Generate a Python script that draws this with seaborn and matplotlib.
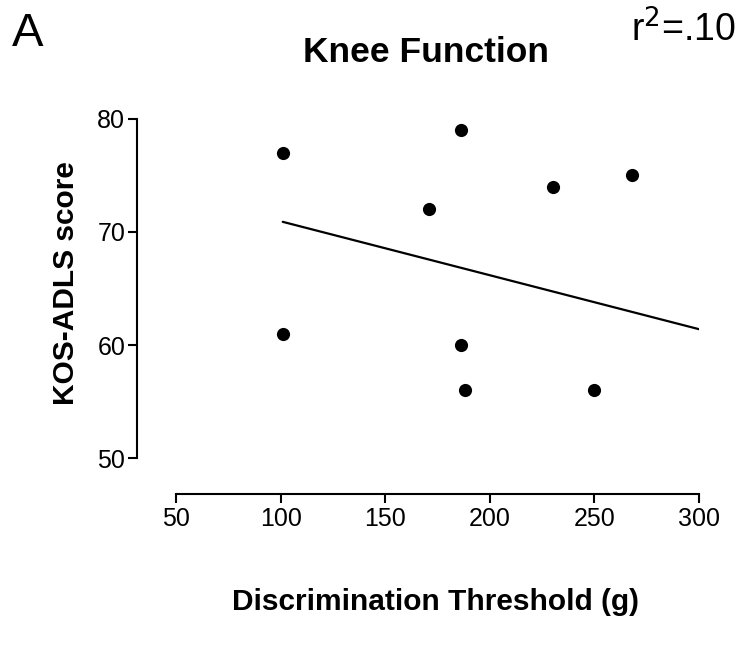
import matplotlib
matplotlib.use("Agg")
import matplotlib.pyplot as plt
import seaborn as sns
import pandas as pd

# Knee function vs. discrimination threshold
threshold_g = [101, 101, 171, 186, 186, 188, 230, 250, 268]
kos_adls = [77, 61, 72, 79, 60, 56, 74, 56, 75]

# Fitted regression line endpoints
fit_x = [101, 300]
fit_y = [70.9, 61.4]

x_ticks = [50, 100, 150, 200, 250, 300]
y_ticks = [50, 60, 70, 80]

sns.set_theme(style="ticks")
plt.rcParams["font.family"] = ["Liberation Sans", "DejaVu Sans"]
plt.rcParams["text.color"] = "black"
plt.rcParams["axes.labelcolor"] = "black"

df = pd.DataFrame({"threshold": threshold_g, "score": kos_adls})
fit = pd.DataFrame({"threshold": fit_x, "score": fit_y})

fig = plt.figure(figsize=(7.44, 6.47), dpi=100)
ax = fig.add_axes([0.2366, 0.2921, 0.7029, 0.5240])

sns.scatterplot(data=df, x="threshold", y="score", ax=ax, color="black",
                s=90, edgecolor="black", linewidth=0, zorder=3)
sns.lineplot(data=fit, x="threshold", y="score", ax=ax, color="black",
             linewidth=1.6, zorder=2)

ax.set_xlim(50, 300)
ax.set_ylim(50, 80)
ax.set_xticks(x_ticks)
ax.set_yticks(y_ticks)
ax.tick_params(axis="both", length=6.5, width=1.5, labelsize=18, color="black",
               labelcolor="black")
ax.tick_params(axis="x", pad=3)
ax.tick_params(axis="y", pad=2)
for sp in ax.spines.values():
    sp.set_linewidth(1.5)
    sp.set_color("black")
sns.despine(ax=ax, offset={"left": 28, "bottom": 26}, trim=True)

ax.set_xlabel("Discrimination Threshold (g)", fontsize=21.5, fontweight="bold")
ax.xaxis.set_label_coords(0.497, -0.383)
ax.set_ylabel("KOS-ADLS score", fontsize=21.5, fontweight="bold")
ax.yaxis.set_label_coords(-0.1836, 0.516)
ax.set_title("Knee Function", fontsize=25.5, fontweight="bold",
             x=0.478, y=1.168, pad=0)

fig.text(0.016, 0.929, "A", fontsize=34, ha="left", va="baseline")
fig.text(0.99, 0.935, "r$^2$=.10", fontsize=27, ha="right", va="baseline")

fig.savefig("out.png", dpi=100, facecolor="white")
